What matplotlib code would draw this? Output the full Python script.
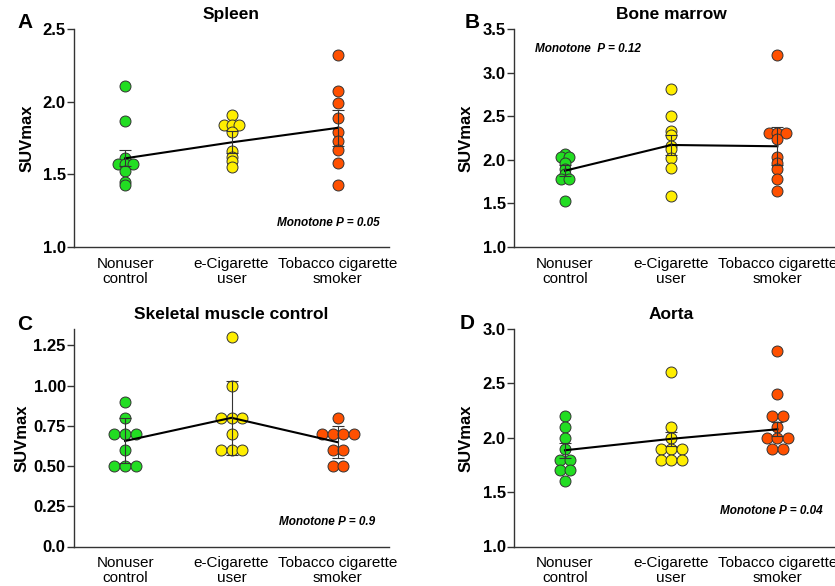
import matplotlib
matplotlib.use("Agg")
import matplotlib.pyplot as plt
import matplotlib.transforms as mtransforms
import numpy as np

plt.rcParams['font.family'] = ['Liberation Sans', 'DejaVu Sans']

# Data
groups = ['Nonuser\ncontrol', 'e-Cigarette\nuser', 'Tobacco cigarette\nsmoker']
group_colors = ['#22dd22', '#ffee00', '#ff5000']

spleen_pts = [
    [2.11, 1.87, 1.61, 1.57, 1.57, 1.57, 1.52, 1.45, 1.43],
    [1.91, 1.84, 1.84, 1.84, 1.79, 1.66, 1.62, 1.59, 1.55],
    [2.32, 2.07, 1.99, 1.89, 1.79, 1.73, 1.67, 1.58, 1.43],
]
spleen_mean = [1.61, 1.72, 1.82]
spleen_err = [0.055, 0.075, 0.125]

marrow_pts = [
    [2.07, 2.03, 2.03, 1.96, 1.90, 1.84, 1.78, 1.78, 1.53],
    [2.81, 2.50, 2.33, 2.28, 2.16, 2.12, 2.02, 1.91, 1.58],
    [3.20, 2.31, 2.31, 2.31, 2.24, 2.03, 1.96, 1.89, 1.78, 1.64],
]
marrow_mean = [1.875, 2.17, 2.155]
marrow_err = [0.06, 0.12, 0.22]

muscle_pts = [
    [0.9, 0.8, 0.7, 0.7, 0.7, 0.6, 0.5, 0.5, 0.5],
    [1.3, 1.0, 0.8, 0.8, 0.8, 0.7, 0.6, 0.6, 0.6],
    [0.8, 0.7, 0.7, 0.7, 0.7, 0.6, 0.6, 0.5, 0.5],
]
muscle_mean = [0.656, 0.80, 0.648]
muscle_err = [0.14, 0.23, 0.10]

aorta_pts = [
    [2.2, 2.1, 2.0, 1.9, 1.8, 1.8, 1.7, 1.7, 1.6],
    [2.6, 2.1, 2.0, 1.9, 1.9, 1.9, 1.8, 1.8, 1.8],
    [2.8, 2.4, 2.2, 2.2, 2.1, 2.0, 2.0, 2.0, 1.9, 1.9],
]
aorta_mean = [1.885, 1.99, 2.078]
aorta_err = [0.07, 0.065, 0.065]


def spread(vals, step):
    # side-by-side offsets for tied values
    vals = list(vals)
    offs = []
    seen = {}
    for v in vals:
        n = vals.count(v)
        i = seen.get(v, 0)
        seen[v] = i + 1
        offs.append((i - (n - 1) / 2) * step)
    return np.array(offs)


def panel(ax, pts, means, errs, title, ylim, yticks, ylabels, xlim, step,
          ptext, ptext_xy, ptext_ha):
    for i, vals in enumerate(pts):
        x = i + spread(vals, step)
        ax.plot(x, vals, 'o', ms=7.9, mfc=group_colors[i], mec='#333333',
                mew=0.7, zorder=2, clip_on=False)
    xs = np.arange(len(means))
    ax.plot(xs, means, color='black', lw=1.5, zorder=3)
    ax.errorbar(xs, means, yerr=errs, fmt='none', ecolor='#333333',
                elinewidth=0.8, capsize=4, capthick=0.8, zorder=4)

    ax.set_xlim(*xlim)
    ax.set_ylim(*ylim)
    ax.set_yticks(yticks)
    ax.set_yticklabels(ylabels, fontsize=12, fontweight='bold')
    ax.set_xticks(xs)
    ax.set_xticklabels(groups, fontsize=11, linespacing=1.1)
    ax.tick_params(axis='x', length=0, pad=7)
    ax.tick_params(axis='y', length=5, width=1, pad=1, color='#333333')
    for s in ['top', 'right']:
        ax.spines[s].set_visible(False)
    for s in ['left', 'bottom']:
        ax.spines[s].set_color('#333333')
        ax.spines[s].set_linewidth(1.0)

    ax.set_ylabel('SUVmax', fontsize=12, fontweight='bold')
    ax.yaxis.set_label_coords(-0.125, 0.5)

    trans = mtransforms.blended_transform_factory(ax.transData, ax.transAxes)
    ax.text(1.0, 1.03, title, transform=trans, ha='center', va='bottom',
            fontsize=12.5, fontweight='bold')
    ax.text(ptext_xy[0], ptext_xy[1], ptext, transform=trans, ha=ptext_ha,
            va='center', fontsize=8.5, fontweight='bold', style='italic')


fig = plt.figure(figsize=(8.35, 5.86), dpi=100)
W, H = 835.0, 586.0

axA = fig.add_axes([74 / W, 1 - 247 / H, 315 / W, 218 / H])
axB = fig.add_axes([514 / W, 1 - 247 / H, 325 / W, 218 / H])
axC = fig.add_axes([74 / W, 1 - 546.5 / H, 315 / W, 217.5 / H])
axD = fig.add_axes([514 / W, 1 - 546.5 / H, 325 / W, 217.5 / H])

panel(axA, spleen_pts, spleen_mean, spleen_err, 'Spleen', (1.0, 2.5),
      [1.0, 1.5, 2.0, 2.5], ['1.0', '1.5', '2.0', '2.5'], (-0.48, 2.48), 0.07,
      'Monotone P = 0.05', (2.39, 0.11), 'right')
panel(axB, marrow_pts, marrow_mean, marrow_err, 'Bone marrow', (1.0, 3.5),
      [1.0, 1.5, 2.0, 2.5, 3.0, 3.5], ['1.0', '1.5', '2.0', '2.5', '3.0', '3.5'],
      (-0.48, 2.58), 0.08, 'Monotone  P = 0.12', (-0.28, 0.907), 'left')
panel(axC, muscle_pts, muscle_mean, muscle_err, 'Skeletal muscle control',
      (0.0, 1.352), [0.0, 0.25, 0.5, 0.75, 1.0, 1.25],
      ['0.0', '0.25', '0.50', '0.75', '1.00', '1.25'], (-0.48, 2.48), 0.1,
      'Monotone P = 0.9', (2.35, 0.111), 'right')
panel(axD, aorta_pts, aorta_mean, aorta_err, 'Aorta', (1.0, 3.0),
      [1.0, 1.5, 2.0, 2.5, 3.0], ['1.0', '1.5', '2.0', '2.5', '3.0'],
      (-0.48, 2.58), 0.1, 'Monotone P = 0.04', (2.43, 0.165), 'right')

axC.yaxis.set_label_coords(-0.14, 0.5)

for letter, (x, y) in zip('ABCD', [(17, 28), (465, 28), (17, 330), (460, 329)]):
    fig.text(x / W, 1 - y / H, letter, fontsize=15, fontweight='bold',
             ha='left', va='baseline')

fig.savefig('out.png', dpi=100)
